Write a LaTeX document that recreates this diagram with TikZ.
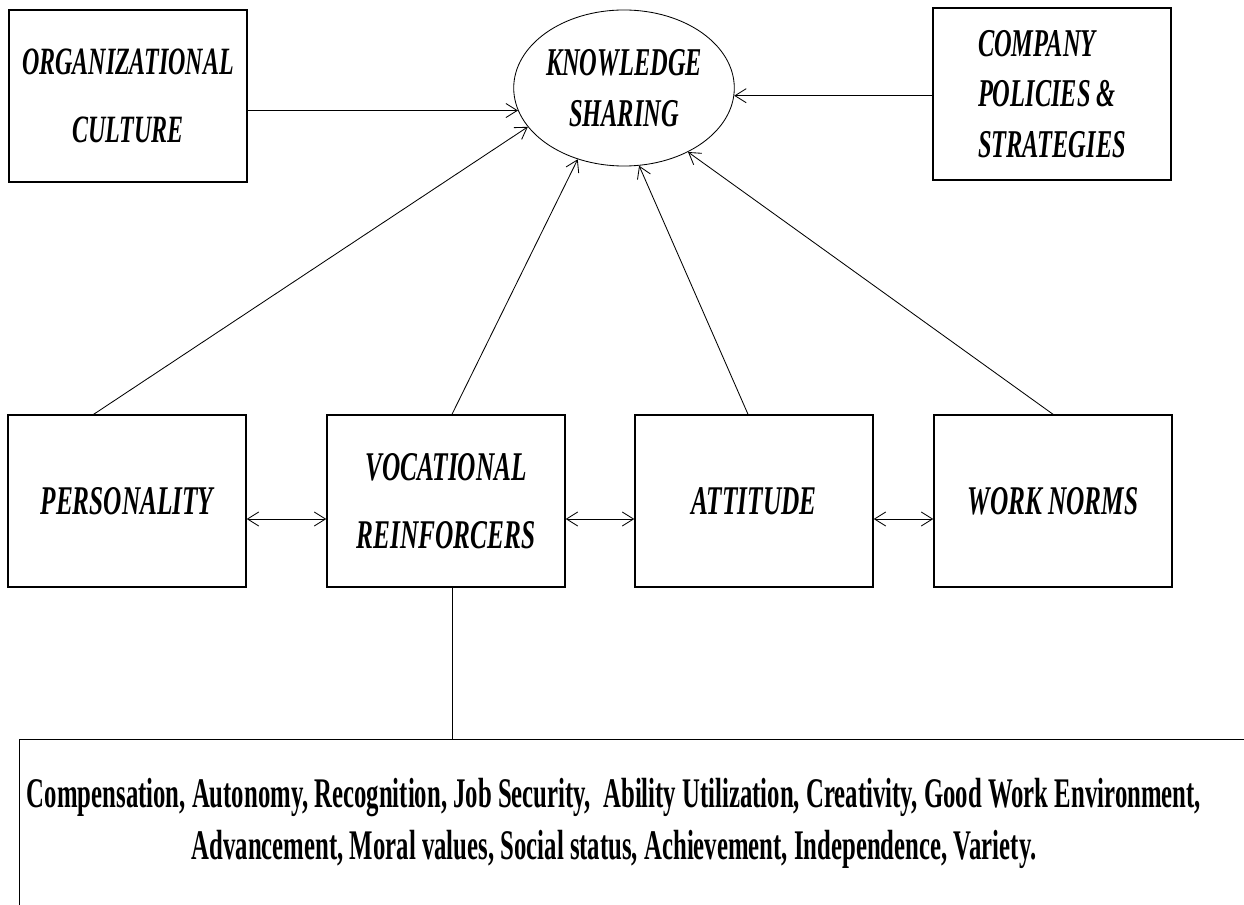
\documentclass[tikz,border=0pt]{standalone}
\usepackage{fontspec}
\setmainfont{Liberation Serif}
\newfontfamily\boxfont[FakeStretch=0.62]{Liberation Serif}
\newfontfamily\listfont[FakeStretch=0.587]{Liberation Serif}
\usetikzlibrary{shapes.geometric,arrows.meta}

\begin{document}
\begin{tikzpicture}[x = 0.025cm, y = -0.025cm, > = {Straight Barb[length = 8pt, width = 10pt]},
        box/.style = {draw, line width = 1pt, minimum width = 5.95cm, minimum height = 4.3cm,
            inner sep = 0pt, align = center, font = \boxfont\bfseries\itshape\fontsize{29}{48}\selectfont},
        toprow/.style = {font = \boxfont\bfseries\itshape\fontsize{27.5}{48}\selectfont},
        link/.style = {line width = 0.6pt}]
            \path[use as bounding box, clip] (0, 0) rectangle (1244, 905);

            % top row
            \node[box, toprow] (org) at (128, 96) {ORGANIZATIONAL\\CULTURE};
            \node[draw, ellipse, line width = 0.6pt, minimum width = 5.4cm, minimum height = 3.9cm,
                inner sep = 0pt, align = center,
                font = \boxfont\bfseries\itshape\fontsize{28}{36}\selectfont] (ks) at (624, 88) {KNOWLEDGE\\SHARING};
            \node[box, align = left, font = \boxfont\bfseries\itshape\fontsize{28}{36}\selectfont] (cps) at (1052, 94)
                {COMPANY\\POLICIES \&\\STRATEGIES};

            % middle row
            \node[box] (pers) at (127, 501) {PERSONALITY};
            \node[box] (voc) at (446, 501) {VOCATIONAL\\REINFORCERS};
            \node[box] (att) at (754, 501) {ATTITUDE};
            \node[box] (wn) at (1053, 501) {WORK NORMS};

            % list of reinforcers
            \node[draw, line width = 1pt, anchor = north west, minimum width = 31.1cm, minimum height = 4.6cm] (lst) at (19, 739) {};
            \node[align = center, font = \listfont\bfseries\fontsize{30}{37}\selectfont] (traits) at (614, 823)
                {Compensation, Autonomy, Recognition, Job Security,\ \ Ability Utilization, Creativity, Good Work Environment,\\
                 Advancement, Moral values, Social status, Achievement, Independence, Variety.};

            \draw[link, ->] (ks.192 -| org.east) -- (ks.192);
            \draw[link, ->] (ks.-4 -| cps.west) -- (ks.-4);
            \draw[link, ->] (pers.111) -- (ks.202);
            \draw[link, ->] ([xshift = 0.15cm]voc.north) -- (ks.237);
            \draw[link, ->] ([xshift = -0.15cm]att.north) -- (ks.281);
            \draw[link, ->] (wn.north) -- (ks.315);

            \draw[link, <->] ([yshift = -0.45cm]pers.east) -- ([yshift = -0.45cm]voc.west);
            \draw[link, <->] ([yshift = -0.45cm]voc.east) -- ([yshift = -0.45cm]att.west);
            \draw[link, <->] ([yshift = -0.45cm]att.east) -- ([yshift = -0.45cm]wn.west);
            \draw[link] ([xshift = 0.15cm]voc.south) -- ([xshift = 0.15cm]voc.south |- lst.north);

        \end{tikzpicture}
\end{document}
